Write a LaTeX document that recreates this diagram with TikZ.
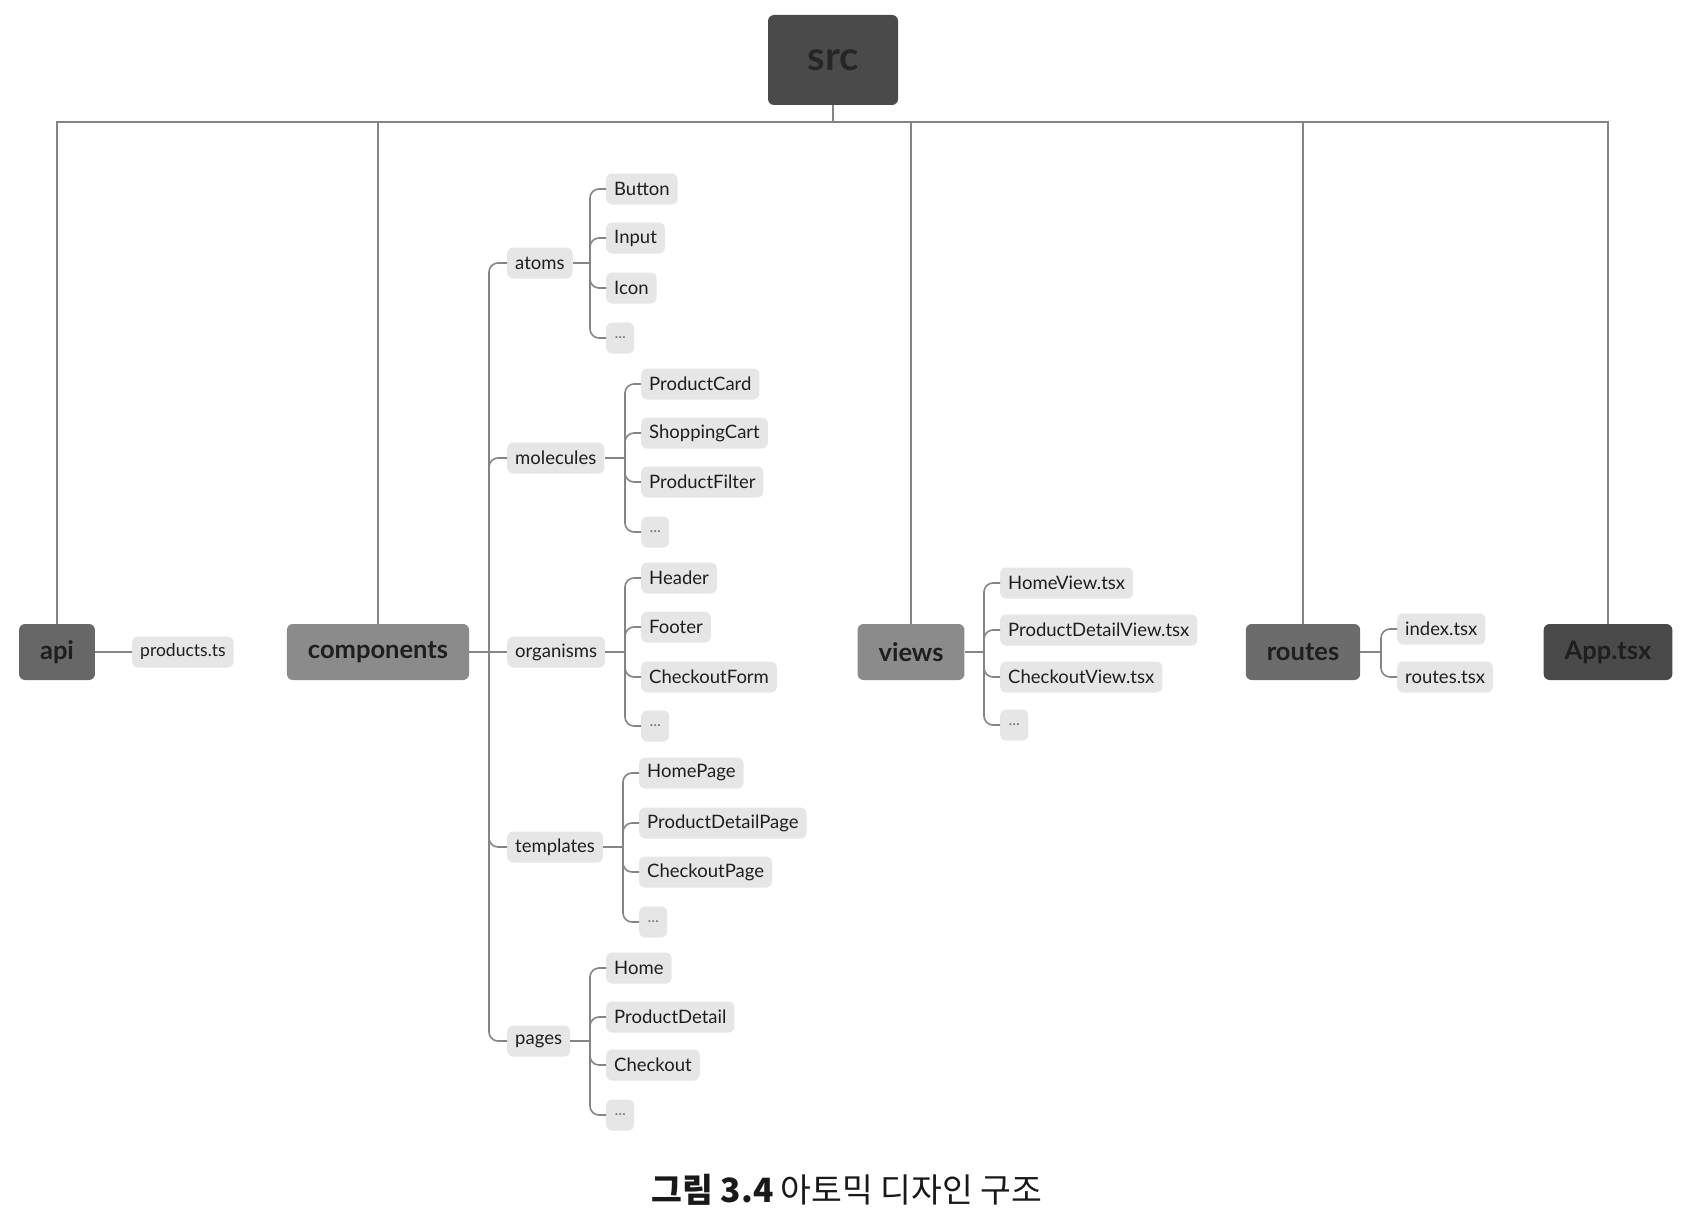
\documentclass[tikz,border=0pt]{standalone}
\usepackage{fontspec}
\setmainfont{Lato}
\newfontfamily\krfont{Noto Sans CJK KR}
\definecolor{leafgray}{HTML}{E6E6E6}
\definecolor{linegray}{HTML}{858585}
\definecolor{txt}{HTML}{1E1E1E}
\definecolor{srcgray}{HTML}{4A4A4A}
\definecolor{apigray}{HTML}{676767}
\definecolor{compgray}{HTML}{8B8B8B}
\definecolor{routegray}{HTML}{6C6C6C}
\begin{document}
\begin{tikzpicture}[x=1pt,y=-1pt,
  mainbox/.style={rounded corners=6pt, inner xsep=21pt, minimum height=56pt,
    font=\fontsize{25.5}{28}\selectfont\bfseries, text=txt},
  leaf/.style={fill=leafgray, rounded corners=6pt, inner xsep=8pt, inner ysep=0pt,
    minimum height=31pt, anchor=west, font=\fontsize{18.5}{20}\selectfont, text=txt},
  dots/.style={leaf, minimum width=28pt, inner xsep=2pt, font=\fontsize{16}{17}\selectfont, text=black!55},
  conn/.style={draw=linegray, line width=1.6pt, rounded corners=9pt},
  bus/.style={draw=linegray, line width=2.4pt}]
\useasboundingbox[fill=white] (0,0) rectangle (1692,1220);

% top level
\node[mainbox, fill=srcgray, minimum width=130pt, minimum height=90pt,
  font=\fontsize{40}{44}\selectfont\bfseries, text=black!85] (src) at (833,60) {src};
\node[mainbox, fill=apigray] (api) at (57,652) {api};
\node[mainbox, fill=compgray] (components) at (378,652) {components};
\node[mainbox, fill=compgray] (views) at (911,652) {views};
\node[mainbox, fill=routegray] (routes) at (1303,652) {routes};
\node[mainbox, fill=srcgray] (app) at (1608,652) {App.tsx};

\coordinate (busJ) at (833,122);
\draw[bus] (src.south) -- (busJ);
\foreach \m in {api,components,views,routes,app}
  \draw[bus] (busJ) -| (\m.north);

% api
\node[leaf, font=\fontsize{17.5}{19}\selectfont] (prod) at (132,652) {products.ts};
\draw[conn] (api.east) -- (prod.west);

% components level 1
\node[leaf] (atoms) at (507,263) {atoms};
\node[leaf] (molecules) at (507,458) {molecules};
\node[leaf] (organisms) at (507,652) {organisms};
\node[leaf] (templates) at (507,847) {templates};
\node[leaf] (pages) at (507,1041) {pages};
\draw[conn] (components.east) -- (organisms.west);
\coordinate (compJ) at (489,652);
\foreach \n in {atoms,molecules,templates,pages}
  \draw[conn] (compJ) |- (\n.west);

% atoms
\coordinate (atomsJ) at (590,263);
\draw[conn] (atoms.east) -- (atomsJ);
\foreach \n/\t/\y in {a1/Button/189, a2/Input/238, a3/Icon/288}{
  \node[leaf] (\n) at (606,\y) {\t};
  \draw[conn] (atomsJ) |- (\n.west);}
\node[dots] (a4) at (606,338) {...};
\draw[conn] (atomsJ) |- (a4.west);

% molecules
\coordinate (molJ) at (625,458);
\draw[conn] (molecules.east) -- (molJ);
\foreach \n/\t/\y in {m1/ProductCard/384, m2/ShoppingCart/433, m3/ProductFilter/482}{
  \node[leaf] (\n) at (641,\y) {\t};
  \draw[conn] (molJ) |- (\n.west);}
\node[dots] (m4) at (641,532) {...};
\draw[conn] (molJ) |- (m4.west);

% organisms
\coordinate (orgJ) at (625,652);
\draw[conn] (organisms.east) -- (orgJ);
\foreach \n/\t/\y in {o1/Header/578, o2/Footer/627, o3/CheckoutForm/677}{
  \node[leaf] (\n) at (641,\y) {\t};
  \draw[conn] (orgJ) |- (\n.west);}
\node[dots] (o4) at (641,726) {...};
\draw[conn] (orgJ) |- (o4.west);

% templates
\coordinate (tplJ) at (623,847);
\draw[conn] (templates.east) -- (tplJ);
\foreach \n/\t/\y in {t1/HomePage/773, t2/ProductDetailPage/823, t3/CheckoutPage/872}{
  \node[leaf] (\n) at (639,\y) {\t};
  \draw[conn] (tplJ) |- (\n.west);}
\node[dots] (t4) at (639,922) {...};
\draw[conn] (tplJ) |- (t4.west);

% pages
\coordinate (pgJ) at (590,1041);
\draw[conn] (pages.east) -- (pgJ);
\foreach \n/\t/\y in {p1/Home/968, p2/ProductDetail/1017, p3/Checkout/1065}{
  \node[leaf] (\n) at (606,\y) {\t};
  \draw[conn] (pgJ) |- (\n.west);}
\node[dots] (p4) at (606,1115) {...};
\draw[conn] (pgJ) |- (p4.west);

% views
\coordinate (viewJ) at (984,652);
\draw[conn] (views.east) -- (viewJ);
\foreach \n/\t/\y in {v1/HomeView.tsx/583, v2/ProductDetailView.tsx/630, v3/CheckoutView.tsx/677}{
  \node[leaf] (\n) at (1000,\y) {\t};
  \draw[conn] (viewJ) |- (\n.west);}
\node[dots] (v4) at (1000,725) {...};
\draw[conn] (viewJ) |- (v4.west);

% routes
\coordinate (routeJ) at (1381,652);
\draw[conn] (routes.east) -- (routeJ);
\foreach \n/\t/\y in {r1/index.tsx/629, r2/routes.tsx/677}{
  \node[leaf] (\n) at (1397,\y) {\t};
  \draw[conn] (routeJ) |- (\n.west);}

% caption
\node[font=\krfont\fontsize{33.5}{36}\selectfont, text=black!90] (cap) at (847,1190)
  {{\bfseries 그림 3.4} 아토믹 디자인 구조};
\end{tikzpicture}
\end{document}
